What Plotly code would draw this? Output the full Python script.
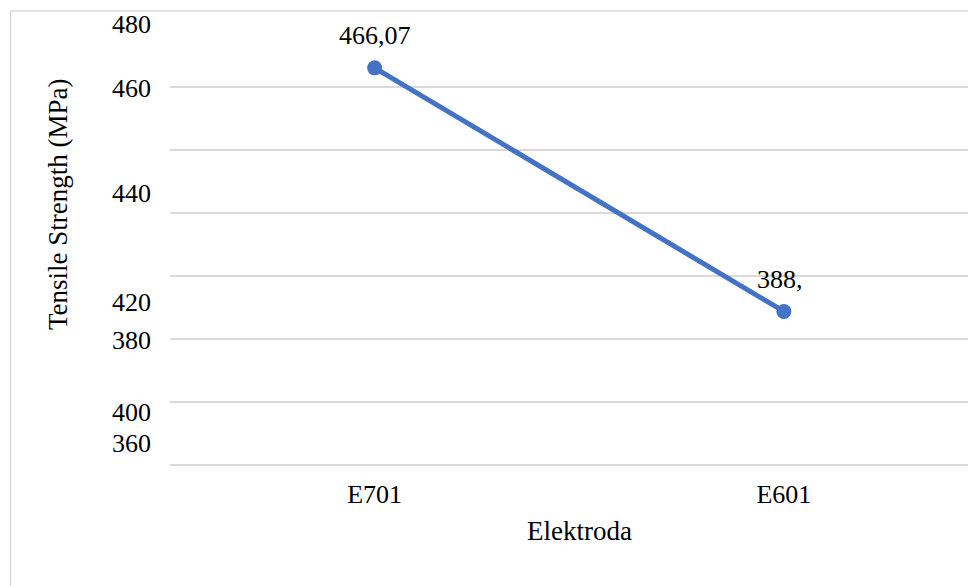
import plotly.graph_objects as go

# ---- data ----
categories = ["E701", "E601"]
tensile = [466.07, 388.7]
data_labels = ["466,07", "388,"]
y_grid_values = [340, 360, 380, 400, 420, 440, 460, 480]
y_tick_texts = ["480", "460", "440", "420", "380", "400", "360"]

# ---- layout constants (pixels) ----
W, H = 968, 586
L, R_EDGE, T, B_EDGE = 170, 968, 24, 466
PW, PH = R_EDGE - L, B_EDGE - T

def px(x):
    return (x - L) / PW

def py(y):
    return (B_EDGE - y) / PH

FONT = "'Liberation Serif', 'Times New Roman', serif"
FS = 26
FS_T = 27

fig = go.Figure()
fig.add_trace(go.Scatter(
    x=categories, y=tensile, mode="lines+markers",
    line=dict(color="#4472C4", width=5),
    marker=dict(color="#4472C4", size=15),
    showlegend=False, hoverinfo="skip",
))

annotations = []
# data labels
shifts = [0, -4]
for c, v, t, s in zip(categories, tensile, data_labels, shifts):
    annotations.append(dict(x=c, y=v, xref="x", yref="y", text=t, showarrow=False,
                            yshift=32, xshift=s, font=dict(family=FONT, size=FS, color="#000")))

# scrambled y tick labels (as drawn in the reference)
label_pix_y = [25, 88, 193, 302, 340, 412, 443]
for t, yy in zip(y_tick_texts, label_pix_y):
    annotations.append(dict(x=px(153), y=py(yy), xref="paper", yref="paper", text=t,
                            showarrow=False, xanchor="right", yanchor="middle",
                            font=dict(family=FONT, size=FS, color="#000")))

# axis titles
annotations.append(dict(x=px(58), y=py(204), xref="paper", yref="paper",
                        text="Tensile Strength (MPa)", textangle=-90, showarrow=False,
                        xanchor="center", yanchor="middle",
                        font=dict(family=FONT, size=FS_T, color="#000")))
annotations.append(dict(x=px(579), y=py(531), xref="paper", yref="paper",
                        text="Elektroda", showarrow=False,
                        xanchor="center", yanchor="middle",
                        font=dict(family=FONT, size=FS_T, color="#000")))

shapes = [
    dict(type="line", xref="paper", yref="paper", x0=px(10.5), x1=px(10.5), y0=py(11), y1=py(600),
         line=dict(color="#d9d9d9", width=1.5)),
    dict(type="line", xref="paper", yref="paper", x0=px(10.5), x1=px(1000), y0=py(11), y1=py(11),
         line=dict(color="#d9d9d9", width=1.5)),
]

fig.update_layout(
    width=W, height=H,
    margin=dict(l=L, r=W - R_EDGE, t=T, b=H - B_EDGE, pad=0),
    paper_bgcolor="white", plot_bgcolor="white",
    annotations=annotations, shapes=shapes,
    xaxis=dict(type="category", range=[-0.5, 1.45], showgrid=False, zeroline=False,
               showline=False, ticks="", ticklabelstandoff=10,
               tickfont=dict(family=FONT, size=FS, color="#000")),
    yaxis=dict(range=[339.6, 480], tickvals=y_grid_values, showticklabels=False,
               showgrid=True, gridcolor="#d9d9d9", gridwidth=1.5, zeroline=False,
               showline=False),
)

fig.write_html("out.html")
